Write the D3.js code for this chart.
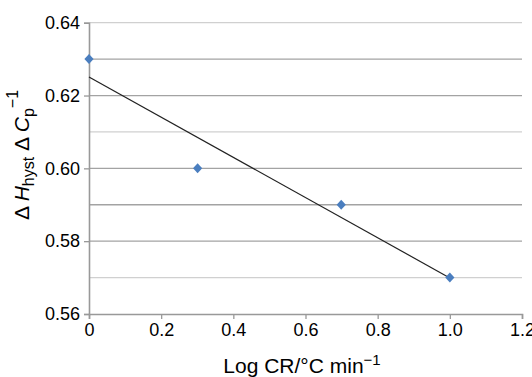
<!DOCTYPE html>
<html><head><meta charset="utf-8">
<script src="https://cdn.jsdelivr.net/npm/d3@7"></script>
<style>
body{margin:0;background:#fff;}
svg{display:block;font-family:"Liberation Sans",Arial,Helvetica,sans-serif;}
</style></head><body>
<svg id="c" width="532" height="377"></svg>
<script>
const logCR = [0, 0.301, 0.699, 1.0];
const ratio = [0.630, 0.600, 0.590, 0.570];
const trendX = [0, 1.0];
const trendY = [0.6251, 0.5699];
const xTicks = [0, 0.2, 0.4, 0.6, 0.8, 1.0, 1.2];
const xTickLabels = ["0", "0.2", "0.4", "0.6", "0.8", "1.0", "1.2"];
const yTicks = [0.56, 0.58, 0.60, 0.62, 0.64];
const yTickLabels = ["0.56", "0.58", "0.60", "0.62", "0.64"];
const gridValues = [0.57, 0.58, 0.59, 0.60, 0.61, 0.62, 0.63, 0.64];
const lightGrid = [0.57, 0.61, 0.64];

const svg = d3.select("#c");
const L = 89, R = 522, T = 22.7, B = 314;
const x = d3.scaleLinear().domain([0, 1.2]).range([L, R]);
const y = d3.scaleLinear().domain([0.56, 0.64]).range([B, T]);

// gridlines
svg.append("g").selectAll("line").data(gridValues).join("line")
  .attr("x1", L).attr("x2", R)
  .attr("y1", d => y(d)).attr("y2", d => y(d))
  .attr("stroke", d => lightGrid.some(v => Math.abs(v - d) < 1e-9) ? "#d0d0d0" : "#a3a3a3")
  .attr("stroke-width", 1.3);

// axes
const xAxis = d3.axisBottom(x).tickValues(xTicks).tickSize(5).tickPadding(4)
  .tickFormat((d, i) => xTickLabels[i]);
const gx = svg.append("g").attr("transform", `translate(0,${B})`).call(xAxis);
const yAxis = d3.axisLeft(y).tickValues(yTicks).tickSize(5).tickPadding(4)
  .tickFormat((d, i) => yTickLabels[i]);
const gy = svg.append("g").attr("transform", `translate(${L},0)`).call(yAxis);
[gx, gy].forEach(g => {
  g.select(".domain").attr("stroke", "#999").attr("stroke-width", 1.6);
  g.selectAll(".tick line").attr("stroke", "#999").attr("stroke-width", 1.3);
  g.selectAll(".tick text").attr("fill", "#000").attr("font-size", 18)
    .attr("font-family", "'Liberation Sans',Arial,sans-serif");
});

// trendline
svg.append("line")
  .attr("x1", x(trendX[0])).attr("y1", y(trendY[0]))
  .attr("x2", x(trendX[1])).attr("y2", y(trendY[1]))
  .attr("stroke", "#222").attr("stroke-width", 1.2);

// markers
const diamond = "M0,-5L4.6,0L0,5L-4.6,0Z";
svg.append("g").selectAll("path").data(logCR).join("path")
  .attr("d", diamond)
  .attr("transform", (d, i) => `translate(${x(d)},${y(ratio[i])})`)
  .attr("fill", "#4a7ebf");

// x title
const xt = svg.append("text").attr("x", 302).attr("y", 373)
  .attr("text-anchor", "middle").attr("font-size", 21).attr("fill", "#000");
xt.append("tspan").text("Log CR/°C min");
xt.append("tspan").attr("font-size", 15).attr("dy", -8).text("−1");

// y title
const yt = svg.append("text").attr("transform", "translate(29,155) rotate(-90)")
  .attr("text-anchor", "middle").attr("font-size", 21).attr("fill", "#000");
yt.append("tspan").text("Δ ");
yt.append("tspan").attr("font-style", "italic").text("H");
yt.append("tspan").attr("font-size", 16).attr("dy", 5).text("hyst");
yt.append("tspan").attr("dy", -5).text(" Δ ");
yt.append("tspan").attr("font-style", "italic").text("C");
yt.append("tspan").attr("font-size", 16).attr("dy", 5).text("p");
yt.append("tspan").attr("font-size", 16).attr("dy", -16).text("−1");
</script>
</body></html>
